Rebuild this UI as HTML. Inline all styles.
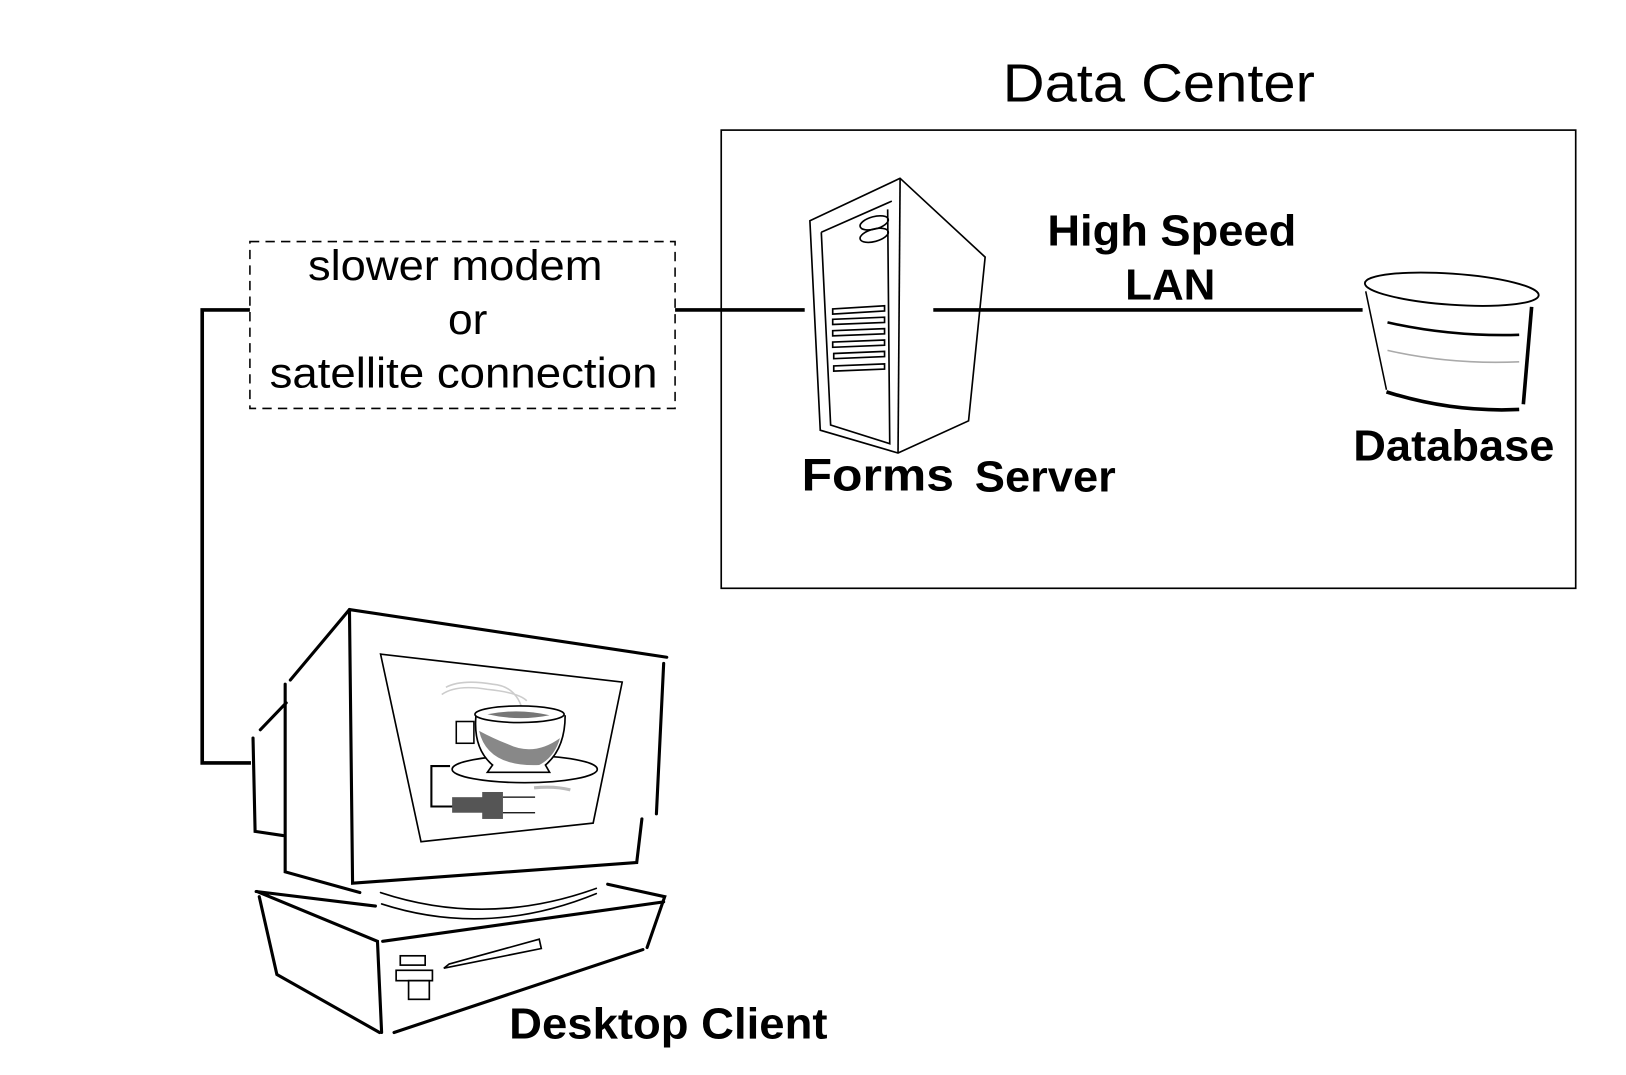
<!DOCTYPE html>
<html><head><meta charset="utf-8"><style>
html,body{margin:0;padding:0;background:#fff;}
svg{display:block;}
text{font-family:"Liberation Sans",sans-serif;fill:#000;}
</style></head><body>
<svg width="1626" height="1075" viewBox="0 0 1568 1037" preserveAspectRatio="none" xmlns="http://www.w3.org/2000/svg">
<rect width="1568" height="1037" fill="#fff"/>
<text x="967" y="98" font-size="52" textLength="301" lengthAdjust="spacingAndGlyphs">Data Center</text>
<rect x="695.5" y="125.5" width="824" height="442" fill="none" stroke="#000" stroke-width="1.6"/>
<rect x="241" y="233" width="410" height="161" fill="none" stroke="#000" stroke-width="1.5" stroke-dasharray="9,6"/>
<text x="297" y="270" font-size="41" textLength="284" lengthAdjust="spacingAndGlyphs">slower modem</text>
<text x="432" y="322" font-size="41" textLength="38" lengthAdjust="spacingAndGlyphs">or</text>
<text x="260" y="374" font-size="41" textLength="374" lengthAdjust="spacingAndGlyphs">satellite connection</text>
<path d="M241 299 H195 V736 H242" fill="none" stroke="#000" stroke-width="3.5"/>
<line x1="651" y1="299" x2="776" y2="299" stroke="#000" stroke-width="3.5"/>
<line x1="900" y1="299" x2="1314" y2="299" stroke="#000" stroke-width="3.5"/>
<text x="1010" y="237" font-size="42" font-weight="bold" textLength="240" lengthAdjust="spacingAndGlyphs">High Speed</text>
<text x="1085" y="289" font-size="42" font-weight="bold" textLength="87" lengthAdjust="spacingAndGlyphs">LAN</text>
<g fill="none" stroke="#000" stroke-width="1.6">
<path d="M868 172 L781 213 L791 415 L866 437 L934 406 L950 248 Z"/>
<path d="M868 172 L866 437"/>
<path d="M792 224 L860 194 M792 224 L801 410 L858 428 L856 202"/>
<ellipse cx="843" cy="215" rx="14" ry="6" transform="rotate(-15 843 215)"/>
<ellipse cx="843" cy="227" rx="14" ry="6" transform="rotate(-15 843 227)"/>
<path d="M803 298 L853 295 L853 300 L803 303 Z M803 308 L853 306 L853 311 L803 313 Z M803 319 L853 317 L853 322 L803 324 Z M803 330 L853 328 L853 333 L803 335 Z M804 341 L853 339 L853 344 L804 346 Z M804 353 L853 351 L853 356 L804 358 Z"/>
</g>
<text x="773" y="473" font-size="44" font-weight="bold" textLength="147" lengthAdjust="spacingAndGlyphs">Forms</text>
<text x="940" y="474" font-size="42" font-weight="bold" textLength="136" lengthAdjust="spacingAndGlyphs">Server</text>
<g fill="none" stroke="#000">
<ellipse cx="1400" cy="279" rx="84" ry="15" transform="rotate(4 1400 279)" stroke-width="1.8"/>
<path d="M1317 281 L1337 376" stroke-width="1.5"/>
<path d="M1477 296 L1469 390" stroke-width="3.5"/>
<path d="M1338 311 Q1400 325 1465 323" stroke-width="2.5"/>
<path d="M1338 338 Q1400 352 1465 349" stroke="#aaa" stroke-width="1.5"/>
<path d="M1337 378 Q1400 398 1465 395" stroke-width="3.5"/>
</g>
<text x="1305" y="444" font-size="42" font-weight="bold" textLength="194" lengthAdjust="spacingAndGlyphs">Database</text>
<g fill="none" stroke="#000" stroke-linecap="round">
<path d="M337 588 L643 634 M640 640 L633 785 M619 790 L614 832 L340 852 L337 588" stroke-width="3"/>
<path d="M337 588 L280 656 M275 660 L275 841 L347 861" stroke-width="3"/>
<path d="M276 678 L251 704 M244 712 L246 802 L273 806" stroke-width="3"/>
<path d="M367 631 L600 658 L572 794 L406 812 Z" stroke-width="1.6"/>
<path d="M367 861 Q470 895 575 857 M368 872 Q470 905 575 862" stroke-width="1.6"/>
<path d="M247 860 L362 874 M248 860 L364 908 L368 996 M250 865 L267 940 L366 996" stroke-width="3"/>
<path d="M369 908 L640 870 M586 853 L641 865 L624 914 M380 996 L620 916" stroke-width="3"/>
<path d="M433 930 L520 906 L522 915 L428 934 Z" stroke-width="1.6"/>
<rect x="386" y="922" width="24" height="9" stroke-width="1.6"/>
<rect x="382" y="936" width="35" height="10" stroke-width="1.6"/>
<rect x="394" y="946" width="20" height="18" stroke-width="1.6"/>
</g>
<g fill="none">
<path d="M426 670 Q440 660 470 665 Q500 668 508 676 M430 663 Q445 655 475 660 Q500 662 505 690" stroke="#ccc" stroke-width="1.5"/>
<ellipse cx="506" cy="742" rx="70" ry="13" stroke="#000" stroke-width="1.6" fill="#fff"/>
<path d="M459 690 Q456 722 475 738 L470 745 L530 745 L526 738 Q545 722 545 690" stroke="#000" stroke-width="1.6" fill="#fff"/>
<path d="M462 705 Q470 740 520 738 Q535 730 540 712 Q515 730 490 718 Q475 712 462 705Z" fill="#888"/>
<ellipse cx="501" cy="689" rx="43" ry="8" stroke="#000" stroke-width="1.6" fill="#fff"/>
<path d="M470 689 Q500 683 530 690 Q500 696 470 689Z" fill="#777"/>
<rect x="440" y="696" width="17" height="21" stroke="#000" stroke-width="1.5"/>
<path d="M434 739 L416 739 L416 778 L438 778" stroke="#000" stroke-width="2"/>
<rect x="436" y="769" width="30" height="15" fill="#555"/>
<rect x="465" y="764" width="20" height="26" fill="#555"/>
<path d="M485 769 L516 769 M485 784 L516 784" stroke="#000" stroke-width="1.2"/>
<path d="M515 760 Q535 758 550 762" stroke="#bbb" stroke-width="3"/>
</g>
<text x="491" y="1002" font-size="42" font-weight="bold" textLength="307" lengthAdjust="spacingAndGlyphs">Desktop Client</text>
</svg>
</body></html>
